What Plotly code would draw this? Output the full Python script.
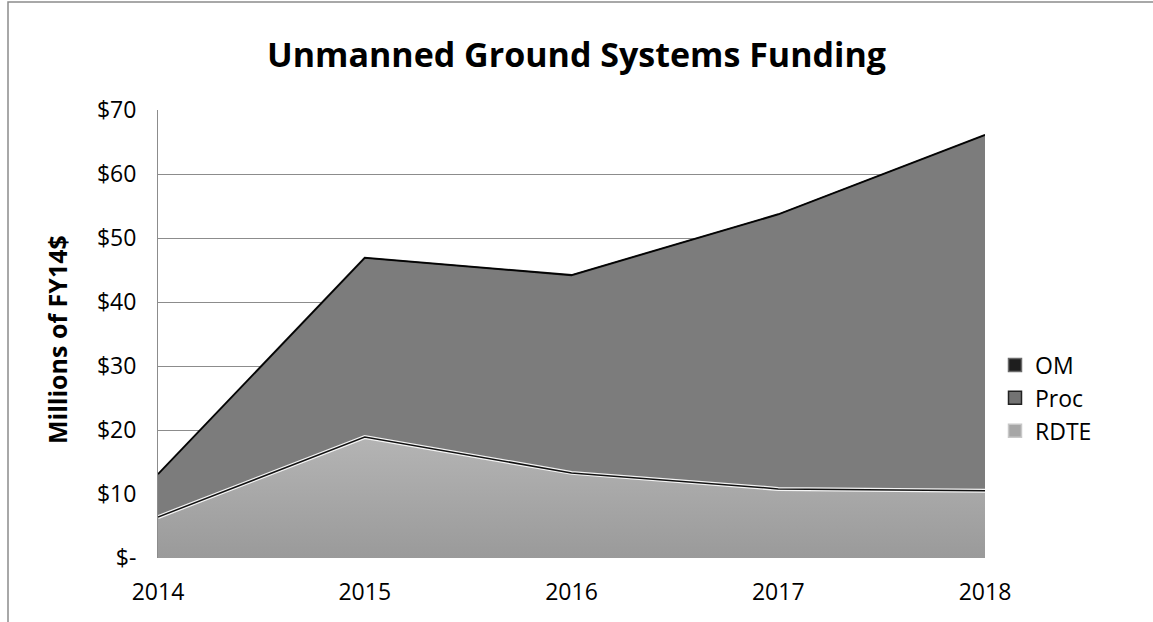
import plotly.graph_objects as go

years = [2014, 2015, 2016, 2017, 2018]
rdte = [6.4, 18.9, 13.3, 10.8, 10.5]
proc = [6.7, 28.0, 30.9, 42.9, 55.6]
om = [0, 0, 0, 0, 0]
ytick_vals = [0, 10, 20, 30, 40, 50, 60, 70]
ytick_text = ["$-", "$10", "$20", "$30", "$40", "$50", "$60", "$70"]
series_names = ["OM", "Proc", "RDTE"]

FONT = "Open Sans"
TICK = 23

fig = go.Figure()
fig.add_trace(go.Scatter(
    x=years, y=rdte, name="RDTE", stackgroup="s", mode="lines", showlegend=False,
    line=dict(color="#f4f4f4", width=4),
    fillgradient=dict(type="vertical", start=0, stop=20,
                      colorscale=[[0, "#9a9a9a"], [1, "#b6b6b6"]])))
fig.add_trace(go.Scatter(
    x=years, y=proc, name="Proc", stackgroup="s", mode="lines", showlegend=False,
    line=dict(color="#111111", width=2), fillcolor="#7c7c7c"))
fig.add_trace(go.Scatter(
    x=years, y=om, name="OM", stackgroup="s", mode="lines", showlegend=False,
    line=dict(color="#000000", width=1), fillcolor="#1a1a1a"))
# boundary outline between RDTE and Proc
fig.add_trace(go.Scatter(
    x=years, y=rdte, mode="lines", showlegend=False, hoverinfo="skip",
    line=dict(color="#111111", width=1.5)))

# legend entries (square swatches)
legend_fill = {"OM": "#1e1e1e", "Proc": "#737373", "RDTE": "#a6a6a6"}
legend_edge = {"OM": "#6a6a6a", "Proc": "#222222", "RDTE": "#c8c8c8"}
for nm in series_names:
    fig.add_trace(go.Scatter(
        x=[None], y=[None], name=nm, mode="markers",
        marker=dict(symbol="square", size=13, color=legend_fill[nm],
                    line=dict(color=legend_edge[nm], width=1.5))))

fig.update_layout(
    width=1153, height=622,
    margin=dict(l=158, r=168, t=110, b=64),
    paper_bgcolor="white", plot_bgcolor="white",
    font=dict(family=FONT, color="black"),
    title=dict(text="<b>Unmanned Ground Systems Funding</b>", x=0.5, xref="container",
               y=1 - 55 / 622, yref="container", yanchor="middle", xanchor="center",
               font=dict(size=34, family=FONT)),
    xaxis=dict(range=[2014, 2018], tickvals=years, ticktext=[str(y) for y in years],
               showgrid=False, zeroline=False, showline=False, ticks="",
               tickfont=dict(size=TICK), ticklabelstandoff=18),
    yaxis=dict(range=[0, 70], tickvals=ytick_vals, ticktext=ytick_text,
               showgrid=True, gridcolor="#8c8c8c", gridwidth=1, zeroline=False,
               showline=True, linecolor="#8c8c8c", linewidth=1, ticks="",
               tickfont=dict(size=TICK), ticklabelstandoff=16),
    legend=dict(x=(995 - 158) / 827, y=(558 - 398) / 448, xanchor="left", yanchor="middle",
                font=dict(size=TICK), traceorder="normal", itemwidth=30,
                bgcolor="rgba(0,0,0,0)"),
    showlegend=True,
    annotations=[dict(text="<b>Millions of FY14$</b>", textangle=-90, xref="paper",
                      yref="paper", x=(57 - 158) / 827, y=(558 - 340) / 448,
                      showarrow=False, font=dict(size=25, family=FONT),
                      xanchor="center", yanchor="middle")],
    shapes=[dict(type="rect", xref="paper", yref="paper",
                 x0=(8 - 158) / 827, x1=1.4, y0=-0.3, y1=(558 - 2) / 448,
                 line=dict(color="#8c8c8c", width=1.5), layer="below")],
)

fig.write_html("out.html", config={"displayModeBar": False},
               post_script="document.body.style.margin='0px';")
